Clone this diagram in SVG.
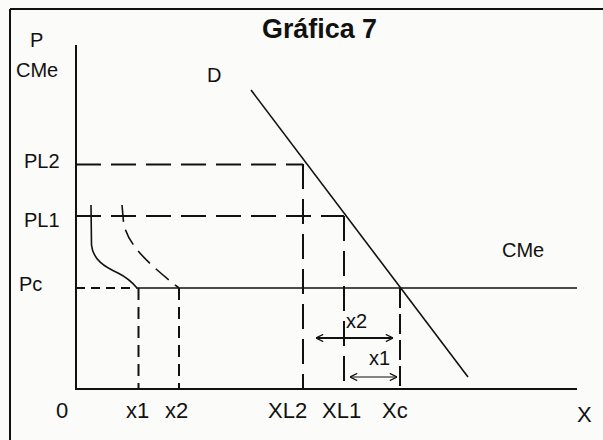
<svg xmlns="http://www.w3.org/2000/svg" width="603" height="440" viewBox="0 0 603 440">
  <style>
    .lbl { font-family: "Liberation Sans", Arial, sans-serif; font-size: 20px; fill: #111; }
    .blbl { font-family: "Liberation Sans", Arial, sans-serif; font-size: 22px; fill: #111; }
    .title { font-family: "Liberation Sans", Arial, sans-serif; font-size: 27px; font-weight: bold; fill: #111; }
    .axis { stroke: #111; stroke-width: 2; fill: none; }
    .solid { stroke: #111; stroke-width: 1.6; fill: none; }
    .dashL { stroke: #111; stroke-width: 2; fill: none; stroke-dasharray: 25 10; }
    .dashS { stroke: #111; stroke-width: 2; fill: none; stroke-dasharray: 9 6; }
    .dashV { stroke: #111; stroke-width: 2; fill: none; stroke-dasharray: 12 7; }
  </style>
  <defs>
    <marker id="ah" viewBox="0 0 10 10" refX="10" refY="5" markerWidth="8" markerHeight="8" markerUnits="userSpaceOnUse" orient="auto-start-reverse">
      <path d="M1,0.5 L10,5 L1,9.5" fill="none" stroke="#111" stroke-width="1.6"/>
    </marker>
  </defs>
  <rect x="0" y="0" width="603" height="440" fill="#fbfbf9"/>
  <g id="frame">
    <line x1="10" y1="9" x2="603" y2="9" class="axis"/>
    <line x1="10" y1="9" x2="10" y2="440" class="axis"/>
  </g>
  <g id="title"><text class="title" x="262" y="38" textLength="115" lengthAdjust="spacingAndGlyphs">Gráfica 7</text></g>
  <g id="axes">
    <line x1="76" y1="45" x2="76" y2="390" class="axis"/>
    <line x1="75" y1="389" x2="577" y2="389" class="axis"/>
  </g>
  <g id="guides">
    <line x1="76" y1="164.5" x2="303" y2="164.5" class="dashL"/>
    <line x1="76" y1="216" x2="344" y2="216" class="dashL"/>
    <line x1="76" y1="288" x2="136" y2="288" class="dashS"/>
    <line x1="138.5" y1="288" x2="138.5" y2="389" class="dashV"/>
    <line x1="179" y1="288" x2="179" y2="389" class="dashV"/>
    <line x1="303" y1="164" x2="303" y2="389" class="dashL"/>
    <line x1="344" y1="216" x2="344" y2="389" class="dashL"/>
    <line x1="400" y1="288" x2="400" y2="389" class="dashV" style="stroke-dasharray:20 6"/>
  </g>
  <g id="curves">
    <line x1="136" y1="288" x2="577" y2="288" class="solid"/>
    <line x1="251" y1="90" x2="468" y2="377" class="solid"/>
    <path d="M91,205 L91.5,245 C93,260 105,267 118,273 C126,277 132,282 137,288" class="solid"/>
    <path d="M122,205 L123.5,222 C127,245 150,265 179,288" class="solid" style="stroke-dasharray:17 8"/>
  </g>
  <g id="arrows">
    <line x1="316" y1="338" x2="393" y2="338" stroke="#111" stroke-width="2" marker-start="url(#ah)" marker-end="url(#ah)"/>
    <line x1="350" y1="377" x2="397" y2="377" stroke="#111" stroke-width="1.2" marker-start="url(#ah)" marker-end="url(#ah)"/>
  </g>
  <g id="labels">
    <text class="lbl" x="30" y="47">P</text>
    <text class="lbl" x="16" y="77">CMe</text>
    <text class="lbl" x="207" y="82">D</text>
    <text class="lbl" x="24" y="168">PL2</text>
    <text class="lbl" x="24" y="227">PL1</text>
    <text class="lbl" x="19" y="291">Pc</text>
    <text class="lbl" x="502" y="257">CMe</text>
    <text class="lbl" x="346" y="328">x2</text>
    <text class="lbl" x="369" y="365">x1</text>
    <text class="blbl" x="56" y="418">0</text>
    <text class="blbl" x="126" y="418">x1</text>
    <text class="blbl" x="165" y="418">x2</text>
    <text class="blbl" x="268" y="418">XL2</text>
    <text class="blbl" x="322" y="418">XL1</text>
    <text class="blbl" x="382" y="418">Xc</text>
    <text class="blbl" x="577" y="422">X</text>
  </g>
</svg>
